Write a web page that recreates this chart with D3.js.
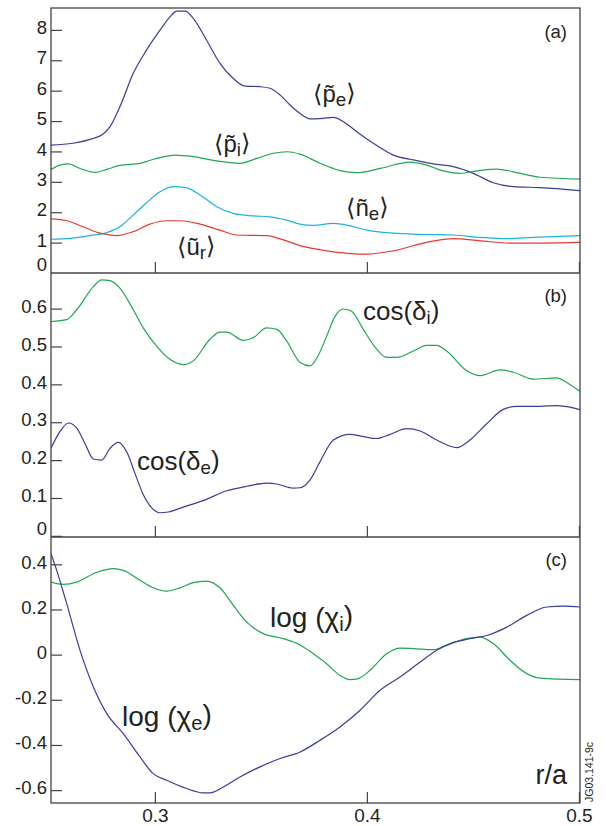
<!DOCTYPE html>
<html><head><meta charset="utf-8">
<script src="https://cdn.jsdelivr.net/npm/d3@7"></script>
<style>
body{margin:0;background:#fff}
text{font-family:"Liberation Sans",Arial,Helvetica,sans-serif;fill:#231f20}
</style>
</head><body>
<svg id="chart" width="606" height="826"></svg>
<script>
// ---------- data (r/a, value) ----------
const xDomain = [0.251, 0.5005];
const xTicks = [0.3, 0.4, 0.5];
const ticksA = [0, 1, 2, 3, 4, 5, 6, 7, 8];
const ticksB = [0, 0.1, 0.2, 0.3, 0.4, 0.5, 0.6];
const ticksC = [-0.6, -0.4, -0.2, 0, 0.2, 0.4];

const pe = [[0.2510,4.21],[0.2614,4.27],[0.2710,4.43],[0.2749,4.54],[0.2788,4.81],[0.2835,5.47],[0.2898,6.57],[0.2961,7.34],[0.3024,7.99],[0.3071,8.43],[0.3103,8.62],[0.3142,8.62],[0.3181,8.38],[0.3244,7.66],[0.3307,6.90],[0.3370,6.40],[0.3425,6.15],[0.3496,6.13],[0.3543,6.08],[0.3590,5.86],[0.3637,5.53],[0.3685,5.25],[0.3732,5.07],[0.3794,5.09],[0.3842,5.12],[0.3889,4.98],[0.3952,4.65],[0.4030,4.27],[0.4125,3.88],[0.4219,3.72],[0.4313,3.59],[0.4408,3.50],[0.4502,3.28],[0.4596,2.97],[0.4691,2.84],[0.4817,2.81],[0.5005,2.71]];
const pi = [[0.2510,3.41],[0.2552,3.55],[0.2592,3.59],[0.2647,3.44],[0.2718,3.31],[0.2773,3.41],[0.2835,3.54],[0.2930,3.61],[0.3008,3.77],[0.3095,3.88],[0.3181,3.83],[0.3292,3.69],[0.3401,3.61],[0.3480,3.77],[0.3559,3.94],[0.3622,3.99],[0.3685,3.91],[0.3779,3.61],[0.3873,3.37],[0.3952,3.30],[0.4062,3.44],[0.4203,3.65],[0.4282,3.55],[0.4360,3.36],[0.4439,3.28],[0.4518,3.36],[0.4612,3.42],[0.4691,3.33],[0.4817,3.15],[0.5005,3.09]];
const ne = [[0.2510,1.11],[0.2600,1.14],[0.2694,1.23],[0.2773,1.33],[0.2835,1.52],[0.2898,1.91],[0.2961,2.31],[0.3024,2.67],[0.3087,2.84],[0.3142,2.82],[0.3213,2.57],[0.3292,2.18],[0.3370,1.96],[0.3464,1.88],[0.3543,1.85],[0.3622,1.74],[0.3685,1.61],[0.3747,1.57],[0.3842,1.63],[0.3920,1.55],[0.3999,1.41],[0.4125,1.31],[0.4251,1.27],[0.4408,1.25],[0.4534,1.17],[0.4660,1.13],[0.4785,1.17],[0.5005,1.23]];
const ur = [[0.2510,1.78],[0.2584,1.72],[0.2662,1.52],[0.2741,1.31],[0.2820,1.23],[0.2898,1.36],[0.2977,1.61],[0.3056,1.72],[0.3118,1.72],[0.3213,1.61],[0.3307,1.41],[0.3386,1.25],[0.3527,1.23],[0.3606,1.09],[0.3685,0.90],[0.3810,0.73],[0.3999,0.62],[0.4125,0.73],[0.4282,1.01],[0.4408,1.13],[0.4534,1.06],[0.4691,0.98],[0.5005,1.01]];

const cosDi = [[0.2510,0.566],[0.2584,0.571],[0.2631,0.597],[0.2710,0.658],[0.2749,0.676],[0.2788,0.674],[0.2835,0.654],[0.2898,0.597],[0.2945,0.549],[0.3008,0.501],[0.3071,0.466],[0.3134,0.452],[0.3181,0.462],[0.3260,0.519],[0.3307,0.538],[0.3339,0.538],[0.3417,0.516],[0.3464,0.523],[0.3527,0.549],[0.3575,0.545],[0.3622,0.514],[0.3685,0.458],[0.3732,0.449],[0.3771,0.477],[0.3810,0.527],[0.3850,0.580],[0.3889,0.599],[0.3928,0.593],[0.3983,0.545],[0.4046,0.493],[0.4093,0.471],[0.4141,0.471],[0.4219,0.488],[0.4282,0.503],[0.4329,0.503],[0.4376,0.488],[0.4471,0.436],[0.4534,0.423],[0.4628,0.438],[0.4691,0.432],[0.4785,0.414],[0.4895,0.417],[0.4942,0.405],[0.5005,0.381]];
const cosDe = [[0.2510,0.231],[0.2552,0.275],[0.2592,0.298],[0.2631,0.285],[0.2670,0.244],[0.2710,0.203],[0.2749,0.200],[0.2788,0.231],[0.2827,0.247],[0.2867,0.222],[0.2906,0.165],[0.2945,0.109],[0.2985,0.074],[0.3024,0.061],[0.3063,0.063],[0.3134,0.076],[0.3228,0.093],[0.3339,0.119],[0.3433,0.131],[0.3527,0.139],[0.3575,0.137],[0.3653,0.126],[0.3685,0.127],[0.3732,0.148],[0.3779,0.196],[0.3842,0.253],[0.3920,0.268],[0.3983,0.262],[0.4046,0.257],[0.4109,0.268],[0.4188,0.283],[0.4251,0.277],[0.4329,0.253],[0.4424,0.233],[0.4486,0.253],[0.4565,0.296],[0.4643,0.334],[0.4707,0.342],[0.4817,0.342],[0.4895,0.344],[0.4958,0.340],[0.5005,0.333]];

const chiI = [[0.2510,0.321],[0.2568,0.311],[0.2631,0.321],[0.2726,0.365],[0.2804,0.381],[0.2851,0.373],[0.2930,0.329],[0.2992,0.296],[0.3056,0.281],[0.3118,0.296],[0.3181,0.319],[0.3244,0.326],[0.3307,0.296],[0.3370,0.218],[0.3433,0.144],[0.3511,0.093],[0.3606,0.071],[0.3685,0.043],[0.3747,0.004],[0.3810,-0.040],[0.3873,-0.092],[0.3920,-0.111],[0.3960,-0.106],[0.4015,-0.069],[0.4093,0.004],[0.4156,0.029],[0.4219,0.027],[0.4313,0.022],[0.4392,0.049],[0.4471,0.071],[0.4534,0.078],[0.4596,0.049],[0.4675,-0.025],[0.4754,-0.084],[0.4817,-0.104],[0.5005,-0.111]];
const chiE = [[0.2510,0.447],[0.2537,0.373],[0.2584,0.226],[0.2647,0.019],[0.2710,-0.143],[0.2773,-0.261],[0.2851,-0.350],[0.2930,-0.453],[0.2992,-0.527],[0.3056,-0.556],[0.3150,-0.593],[0.3228,-0.612],[0.3260,-0.612],[0.3323,-0.586],[0.3401,-0.542],[0.3496,-0.497],[0.3590,-0.460],[0.3685,-0.431],[0.3779,-0.379],[0.3873,-0.320],[0.3968,-0.246],[0.4062,-0.158],[0.4156,-0.099],[0.4251,-0.033],[0.4329,0.019],[0.4408,0.053],[0.4486,0.071],[0.4565,0.085],[0.4660,0.122],[0.4754,0.174],[0.4848,0.211],[0.4926,0.215],[0.5005,0.211]];

// ---------- layout ----------
const svg = d3.select("#chart");
const L = 51, R = 580;
const BLUE = "#3a3d9c", GREEN = "#1fa654", CYAN = "#1cb3de", RED = "#e63a30";
const AX = "#444";

const x = d3.scaleLinear().domain(xDomain).range([L, R]);

const panels = [
  {top: 8,   bottom: 273, domain: [0, 8.72],        ticks: ticksA, tag: "(a)", tagY: 38,
   series: [[pe, BLUE], [pi, GREEN], [ne, CYAN], [ur, RED]]},
  {top: 273, bottom: 537, domain: [-0.003, 0.694],  ticks: ticksB, tag: "(b)", tagY: 302,
   series: [[cosDi, GREEN], [cosDe, BLUE]]},
  {top: 537, bottom: 803, domain: [-0.657, 0.521],  ticks: ticksC, tag: "(c)", tagY: 566,
   series: [[chiI, GREEN], [chiE, BLUE]]}
];

const fmt = v => String(+v.toFixed(1));

panels.forEach((p, i) => {
  const y = d3.scaleLinear().domain(p.domain).range([p.bottom, p.top]);
  const clipId = "clip" + i;
  svg.append("clipPath").attr("id", clipId).append("rect")
    .attr("x", L).attr("y", p.top).attr("width", R - L).attr("height", p.bottom - p.top);

  const line = d3.line().x(d => x(d[0])).y(d => y(d[1])).curve(d3.curveMonotoneX);
  p.series.forEach(([data, col]) => {
    svg.append("path").attr("d", line(data)).attr("fill", "none")
      .attr("stroke", col).attr("stroke-width", 1.2).attr("clip-path", `url(#${clipId})`);
  });

  const yAxis = d3.axisLeft(y).tickValues(p.ticks).tickSizeInner(-11).tickSizeOuter(0)
    .tickPadding(4).tickFormat(fmt);
  const gy = svg.append("g").attr("transform", `translate(${L},0)`).call(yAxis);
  gy.select(".domain").remove();
  gy.selectAll("line").attr("stroke", AX).attr("stroke-width", 1.2)
    .filter(d => Math.abs(y(d) - p.bottom) < 1).remove();
  gy.selectAll("text").attr("font-size", 18.5).attr("fill", "#231f20")
    .attr("font-family", "Liberation Sans, Arial, sans-serif")
    .attr("dy", "0.28em")
    .attr("y", d => Math.min(0, (p.bottom - 6.5) - y(d)) - 1.5);

  const xAxis = d3.axisBottom(x).tickValues(xTicks).tickSizeInner(-11).tickSizeOuter(0)
    .tickPadding(6).tickFormat(d => d.toFixed(1));
  const gx = svg.append("g").attr("transform", `translate(0,${p.bottom})`).call(xAxis);
  gx.select(".domain").remove();
  gx.selectAll("line").attr("stroke", AX).attr("stroke-width", 1.2);
  if (i < 2) gx.selectAll("text").remove();
  else gx.selectAll("text").attr("font-size", 19).attr("fill", "#231f20")
        .attr("font-family", "Liberation Sans, Arial, sans-serif");

  svg.append("text").attr("x", 567).attr("y", p.tagY).attr("text-anchor", "end")
    .attr("font-size", 18.5).text(p.tag);
});

// frame
svg.append("rect").attr("x", L).attr("y", 8).attr("width", R - L).attr("height", 803 - 8)
  .attr("fill", "none").attr("stroke", AX).attr("stroke-width", 1.3);
[273, 537].forEach(yy => svg.append("line").attr("x1", L).attr("x2", R)
  .attr("y1", yy).attr("y2", yy).attr("stroke", AX).attr("stroke-width", 1.3));

// ---------- curve labels ----------
function bracketLabel(px, py, base, sub, size) {
  const t = svg.append("text").attr("x", px).attr("y", py).attr("font-size", size);
  t.append("tspan").attr("font-family", "DejaVu Sans").text("\u27E8");
  t.append("tspan").text(base);
  t.append("tspan").attr("dy", "0.2em").attr("font-size", size * 0.78).text(sub);
  t.append("tspan").attr("dy", -0.2 * size).attr("font-family", "DejaVu Sans").text("\u27E9");
}
bracketLabel(313, 102, "p\u0303", "e", 24);
bracketLabel(214, 152, "p\u0303", "i", 24);
bracketLabel(346, 216, "\u00F1", "e", 24);
bracketLabel(177, 255, "\u0169", "r", 24);

function funcLabel(px, py, head, greek, sub, size) {
  const t = svg.append("text").attr("x", px).attr("y", py).attr("font-size", size);
  t.append("tspan").text(head + "(" + greek);
  t.append("tspan").attr("dy", "0.2em").attr("font-size", size * 0.72).text(sub);
  t.append("tspan").attr("dy", -0.2 * size).text(")");
}
funcLabel(363, 320, "cos", "\u03B4", "i", 26);
funcLabel(137, 470, "cos", "\u03B4", "e", 26);
funcLabel(270, 627, "log ", "\u03C7", "i", 28);
funcLabel(122, 726, "log ", "\u03C7", "e", 28);

svg.append("text").attr("x", 567).attr("y", 784).attr("text-anchor", "end")
  .attr("font-size", 27).text("r/a");
svg.append("text").attr("transform", "translate(593,802) rotate(-90)")
  .attr("font-size", 10.5).text("JG03.141-9c");
</script>
</body></html>
